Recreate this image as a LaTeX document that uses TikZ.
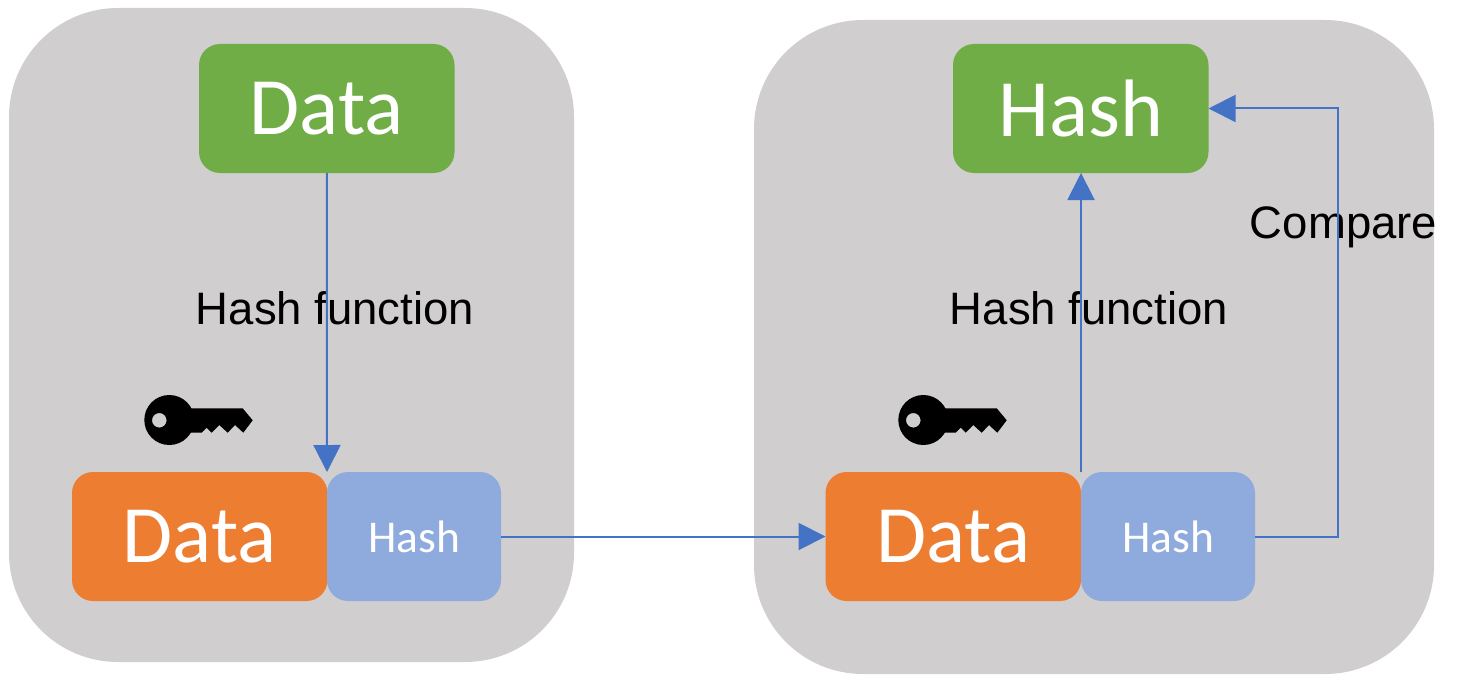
\documentclass[tikz,border=0pt]{standalone}
\usepackage{fontspec}
\setmainfont{Liberation Sans}
\newfontfamily\boxfont{Carlito}
\usetikzlibrary{arrows.meta}
\definecolor{panelgray}{HTML}{D0CECE}
\definecolor{boxgreen}{HTML}{70AD47}
\definecolor{boxorange}{HTML}{ED7D31}
\definecolor{boxblue}{HTML}{8FAADC}
\definecolor{linkblue}{HTML}{4472C4}
\tikzset{
  x=1pt,y=-1pt,
  panel/.style={fill=panelgray,draw=none,rounded corners=109pt},
  block/.style={draw=none,rounded corners=21pt,inner sep=0pt,outer sep=0pt,text=white,anchor=north west,font=\boxfont\fontsize{81.5}{96}\selectfont},
  smallblock/.style={block,fill=boxblue,minimum width=174pt,minimum height=129pt,font=\boxfont\fontsize{45.5}{54}\selectfont},
  bigblock/.style={block,minimum width=255.5pt,minimum height=129pt},
  link/.style={draw=linkblue,line width=2pt,-{Triangle[length=27pt,width=27pt]}},
  caption/.style={font=\fontsize{45.5}{54}\selectfont,text=black,inner sep=0pt},
  keyicon/.pic={
    \fill[black] (44,-11.7) -- (97.7,-11.7) -- (107.7,0.3) -- (98.3,12.7) -- (90,5) -- (82.7,12.7)
      -- (74.3,5) -- (66.7,12.7) -- (61.7,7.7) -- (56.7,12.7) -- (44,12.7) -- cycle;
    \fill[black,even odd rule]
      (24.3,0) circle[radius=25]
      (14.3,0.3) circle[radius=7.3];
  }
}
\begin{document}
\begin{tikzpicture}
\useasboundingbox (0,0) rectangle (1466,682);
\path[panel] (9,8) rectangle (574,662);
\path[panel] (754,20) rectangle (1434,674);

\node[caption] (fnL) at (335,308) {Hash function};
\node[caption] (fnR) at (1089,308) {Hash function};
\node[caption] (cmp) at (1343.5,227.5) {Compare};

\node[bigblock,fill=boxgreen] (dataTop) at (199,44) {Data};
\node[bigblock,fill=boxgreen] (hashTop) at (953,44) {Hash};
\node[bigblock,fill=boxorange] (dataL) at (72,472) {Data};
\node[smallblock] (hashL) at (327,472) {Hash};
\node[bigblock,fill=boxorange] (dataR) at (825.5,472) {Data};
\node[smallblock] (hashR) at (1081,472) {Hash};

\path (145,420) pic {keyicon};
\path (899,420) pic {keyicon};

\draw[link] (dataTop.south) -- (hashL.north west);
\draw[link] (hashL.east) -- (dataR.west);
\draw[link] (hashR.north west) -- (hashTop.south -| hashR.north west);
\draw[link] (hashR.east) -- (1338,536.5) |- (hashTop.east);
\end{tikzpicture}
\end{document}
